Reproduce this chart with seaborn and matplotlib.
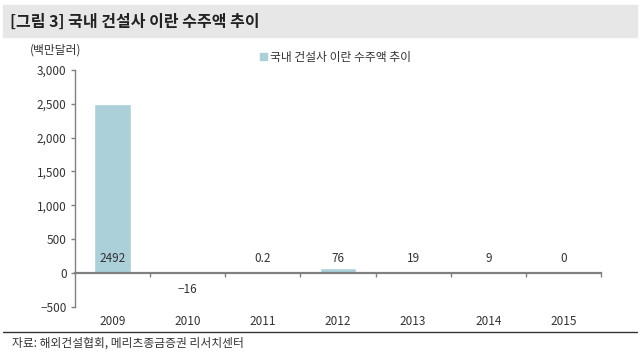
import pandas as pd
import matplotlib.pyplot as plt
import matplotlib.patches as mpatches
import seaborn as sns
from matplotlib.ticker import FuncFormatter, FixedLocator

#------------------------------------------
years=['2009', '2010', '2011', '2012', '2013', '2014', '2015']
values=[2492, -16, 0.2, 76, 19, 9, 0]
labels=['2492', '\u221216', '0.2', '76', '19', '9', '0']
series='국내 건설사 이란 수주액 추이'
title='[그림 3] 국내 건설사 이란 수주액 추이'
unit='(백만달러)'
source='자료: 해외건설협회, 메리츠종금증권 리서치센터'

bar_color='#abd0da'
line_color='#808080'
kfont=['Noto Sans CJK KR', 'DejaVu Sans']

######################################################
sns.set_style('white')
plt.rcParams['font.family']=kfont

df=pd.DataFrame({'year': years, 'value': values})

fig=plt.figure(figsize=(6.4, 3.53), dpi=100)
ax=fig.add_axes([75/640, 1-306.7/353, 526/640, (306.7-70)/353])

sns.barplot(data=df, x='year', y='value', color=bar_color, width=0.49,
            saturation=1, ax=ax)
ax.set_ylim(-500, 3000)
ax.set_xlim(-0.5, 6.5)
ax.set_xlabel('')
ax.set_ylabel('')

#spines
for s in ['top', 'right']:
    ax.spines[s].set_visible(False)
ax.spines['left'].set_color(line_color)
ax.spines['left'].set_linewidth(1)
ax.spines['bottom'].set_position(('data', 0))
ax.spines['bottom'].set_color(line_color)
ax.spines['bottom'].set_linewidth(1.6)

#y ticks
ax.set_yticks(range(-500, 3001, 500))
ax.yaxis.set_major_formatter(FuncFormatter(
    lambda v, p: f'{int(v):,}'.replace('-', '\u2212')))
ax.tick_params(axis='y', which='major', direction='out', length=3, width=1,
               color=line_color, labelsize=8.5, labelcolor='#333333', pad=3,
               left=True)

#x ticks: marks at boundaries, labels at centres
ax.xaxis.set_major_locator(FixedLocator([0.5, 1.5, 2.5, 3.5, 4.5, 5.5, 6.5]))
ax.xaxis.set_minor_locator(FixedLocator(range(len(years))))
ax.set_xticklabels([], minor=False)
ax.set_xticklabels(years, minor=True)
ax.tick_params(axis='x', which='major', direction='out', length=3, width=1,
               color=line_color, bottom=True)
ax.tick_params(axis='x', which='minor', length=0, labelsize=8.5,
               labelcolor='#333333', pad=30)

#value labels
for i, (v, t) in enumerate(zip(values, labels)):
    yy=210 if v >= 0 else -240
    ax.text(i, yy, t, ha='center', va='center', fontsize=8.5, color='#333333')

#legend
h=mpatches.Patch(color=bar_color, label=series)
leg=fig.legend(handles=[h], loc='center left', bbox_to_anchor=(255/640, 1-57/353),
               frameon=False, fontsize=8.5, handlelength=0.6, handleheight=0.6,
               handletextpad=0.3, borderaxespad=0)
for t in leg.get_texts(): t.set_color('#333333')

#header band and title
fig.patches.append(mpatches.Rectangle((3/640, 1-37/353), 634/640, 32/353,
                   transform=fig.transFigure, color='#e7e7e7', zorder=0))
fig.text(10/640, 1-22/353, title, fontsize=11.5, weight='bold', color='#222222',
         va='center', ha='left')
fig.text(30/640, 1-50/353, unit, fontsize=8.5, color='#333333',
         va='center', ha='left')

#source line
fig.add_artist(plt.Line2D([3/640, 637/640], [1-332/353, 1-332/353],
               color='#333333', lw=1, transform=fig.transFigure))
fig.text(12/640, 1-343/353, source, fontsize=8.5, color='#333333',
         va='center', ha='left', style='italic')

plt.savefig('out.png', dpi=100)
plt.close()
